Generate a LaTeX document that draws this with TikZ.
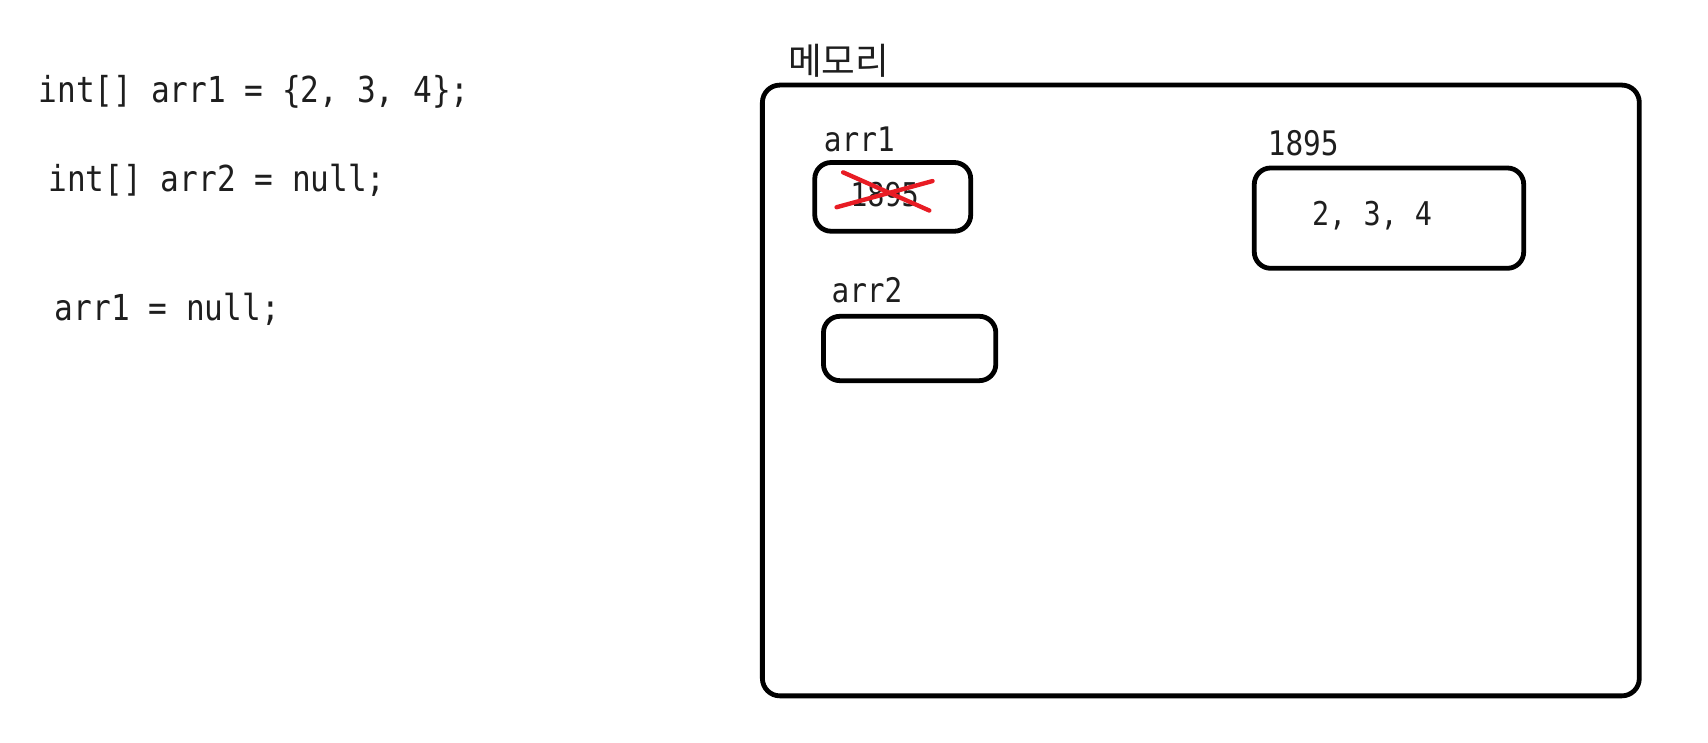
\documentclass[tikz,border=0pt]{standalone}
\usepackage{fontspec}
\setmonofont[FakeStretch=0.87]{DejaVu Sans Mono}
\newfontfamily\korfont{Noto Sans CJK KR}
\usepackage{tikz}
\usetikzlibrary{positioning}
\usetikzlibrary{calc}
\definecolor{strikered}{RGB}{232,28,36}
\definecolor{inkgray}{RGB}{30,30,30}

\begin{document}
\begin{tikzpicture}[
			x=0.5pt, y=-0.5pt,
			every node/.style={text=inkgray, inner sep=0pt},
			code/.style={anchor=base west, font=\fontsize{16.4}{19}\selectfont\ttfamily},
			tag/.style={anchor=base west, font=\fontsize{15.5}{18}\selectfont\ttfamily},
			value/.style={font=\fontsize{15}{18}\selectfont\ttfamily},
			cell/.style={draw=black, line width=2.2pt, rounded corners=7.5pt},
			memory/.style={draw=black, line width=2.2pt, rounded corners=8pt},
			strike/.style={strikered, line width=2pt, line cap=round}
		]
		\useasboundingbox (0,0) rectangle (1566,681.2);

		% Code lines
		\node[code] (line1) at (35,94) {int[] arr1 = \{2, 3, 4\};};
		\node[code] (line2) at (44,176) {int[] arr2 = null;};
		\node[code] (line3) at (50,294) {arr1 = null;};

		% Memory area
		\node[memory, minimum width=402pt, minimum height=280pt] (mem) at (1101,358) {};
		\node[font=\fontsize{16.8}{19}\selectfont\korfont] (memtitle) at (769,56) {메모리};

		% arr1 variable (old reference crossed out)
		\node[cell, minimum width=71.5pt, minimum height=31.5pt] (arr1box) at (818.5,180.5) {};
		\node[tag] (arr1tag) at (755,139) {arr1};
		\node[value] (arr1val) at (811,178) {1895};
		\coordinate (s1a) at (773,158);
		\coordinate (s1b) at (852,193);
		\coordinate (s2a) at (767,190);
		\coordinate (s2b) at (855,166);
		\draw[strike] (s1a) -- (s1b);
		\draw[strike] (s2a) -- (s2b);

		% arr2 variable
		\node[cell, minimum width=79pt, minimum height=29.5pt] (arr2box) at (834,319.5) {};
		\node[tag] (arr2tag) at (762,277) {arr2};

		% Array object at address 1895
		\node[cell, minimum width=123.5pt, minimum height=46pt] (heap) at (1273.5,200) {};
		\node[tag] (heaptag) at (1162,143) {1895};
		\node[value] (heapval) at (1258,198) {2, 3, 4};

	\end{tikzpicture}
\end{document}
